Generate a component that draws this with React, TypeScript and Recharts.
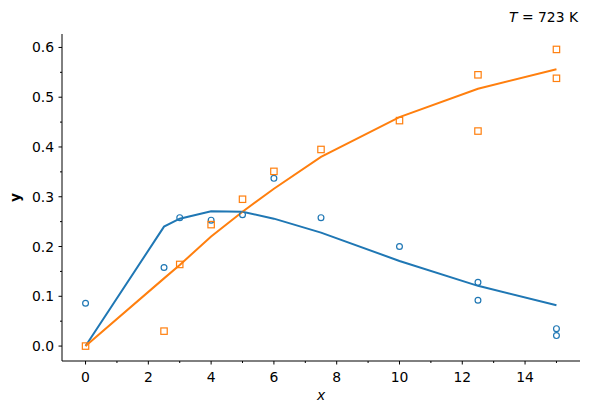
import * as React from "react";
import { ComposedChart, Line, Scatter, XAxis, YAxis } from "recharts";

const BLUE = "#1f77b4";
const ORANGE = "#ff7f0e";
const FONT = "DejaVu Sans, sans-serif";

// measured points
const pointsX = [0, 2.5, 3, 4, 5, 6, 7.5, 10, 12.5, 12.5, 15, 15];
const blueMeasured = [0.086, 0.158, 0.258, 0.253, 0.264, 0.337, 0.258, 0.2, 0.128, 0.092, 0.035, 0.021];
const orangeMeasured = [0.0, 0.03, 0.164, 0.244, 0.295, 0.351, 0.395, 0.453, 0.545, 0.432, 0.596, 0.538];

// model curves
const curveX = [0, 2.5, 3, 4, 5, 6, 7.5, 10, 12.5, 15];
const blueCurve = [0, 0.24, 0.256, 0.271, 0.27, 0.256, 0.228, 0.171, 0.121, 0.082];
const orangeCurve = [0, 0.136, 0.163, 0.22, 0.27, 0.316, 0.38, 0.46, 0.517, 0.556];

const xTicks = [0, 1, 2, 3, 4, 5, 6, 7, 8, 9, 10, 11, 12, 13, 14, 15];
const yTicks = [0, 0.05, 0.1, 0.15, 0.2, 0.25, 0.3, 0.35, 0.4, 0.45, 0.5, 0.55, 0.6];

const blueDots = pointsX.map((x, i) => ({ x, y: blueMeasured[i] }));
const orangeDots = pointsX.map((x, i) => ({ x, y: orangeMeasured[i] }));
const blueLine = curveX.map((x, i) => ({ x, y: blueCurve[i] }));
const orangeLine = curveX.map((x, i) => ({ x, y: orangeCurve[i] }));

function XTick(props: any) {
  const { x, y, payload } = props;
  const v = payload.value as number;
  const major = v % 2 === 0;
  return (
    <g>
      <line x1={x} x2={x} y1={y} y2={y + (major ? 3.5 : 2)} stroke="#000" strokeWidth={1} />
      {major && (
        <text x={x} y={y + 21} textAnchor="middle" fontSize={13.9} fontFamily={FONT} fill="#000">
          {v}
        </text>
      )}
    </g>
  );
}

function YTick(props: any) {
  const { x, y, payload } = props;
  const v = payload.value as number;
  const major = Math.round(v * 100) % 10 === 0;
  return (
    <g>
      <line x1={x - (major ? 3.5 : 2)} x2={x} y1={y} y2={y} stroke="#000" strokeWidth={1} />
      {major && (
        <text x={x - 8} y={y} dy="0.36em" textAnchor="end" fontSize={13.9} fontFamily={FONT} fill="#000">
          {v.toFixed(1)}
        </text>
      )}
    </g>
  );
}

const circle = (p: any) => (
  <circle cx={p.cx} cy={p.cy} r={2.9} fill="none" stroke={BLUE} strokeWidth={1.2} />
);
const square = (p: any) => (
  <rect x={p.cx - 3.2} y={p.cy - 3.2} width={6.4} height={6.4} fill="none" stroke={ORANGE} strokeWidth={1.2} />
);

export default function App() {
  return (
    <div style={{ position: "absolute", left: 0, top: 0, width: 590, height: 414, background: "#fff" }}>
      <ComposedChart width={590} height={414} margin={{ top: 34, right: 10, left: 0, bottom: 0 }}>
        <XAxis
          dataKey="x"
          type="number"
          domain={[-0.75, 15.75]}
          ticks={xTicks}
          interval={0}
          height={53}
          tickSize={0}
          tickMargin={0}
          tickLine={false}
          axisLine={{ stroke: "#000", strokeWidth: 1 }}
          tick={<XTick />}
        />
        <YAxis
          dataKey="y"
          type="number"
          domain={[-0.03, 0.627]}
          ticks={yTicks}
          interval={0}
          width={62}
          tickSize={0}
          tickMargin={0}
          tickLine={false}
          axisLine={{ stroke: "#000", strokeWidth: 1 }}
          tick={<YTick />}
        />
        <Line data={blueLine} dataKey="y" type="linear" stroke={BLUE} strokeWidth={2} dot={false} activeDot={false} isAnimationActive={false} />
        <Line data={orangeLine} dataKey="y" type="linear" stroke={ORANGE} strokeWidth={2} dot={false} activeDot={false} isAnimationActive={false} />
        <Scatter data={blueDots} dataKey="y" shape={circle} isAnimationActive={false} />
        <Scatter data={orangeDots} dataKey="y" shape={square} isAnimationActive={false} />
        <text x={578} y={22} textAnchor="end" fontSize={13.9} fontFamily={FONT} fill="#000">
          <tspan fontStyle="italic">T</tspan>
          <tspan> = 723 K</tspan>
        </text>
        <text x={321} y={400} textAnchor="middle" fontSize={13.9} fontFamily={FONT} fontStyle="italic" fill="#000">
          x
        </text>
        <text
          x={20}
          y={197.5}
          textAnchor="middle"
          fontSize={13.9}
          fontFamily={FONT}
          fontWeight="bold"
          fill="#000"
          transform="rotate(-90, 20, 197.5)"
        >
          y
        </text>
      </ComposedChart>
    </div>
  );
}
